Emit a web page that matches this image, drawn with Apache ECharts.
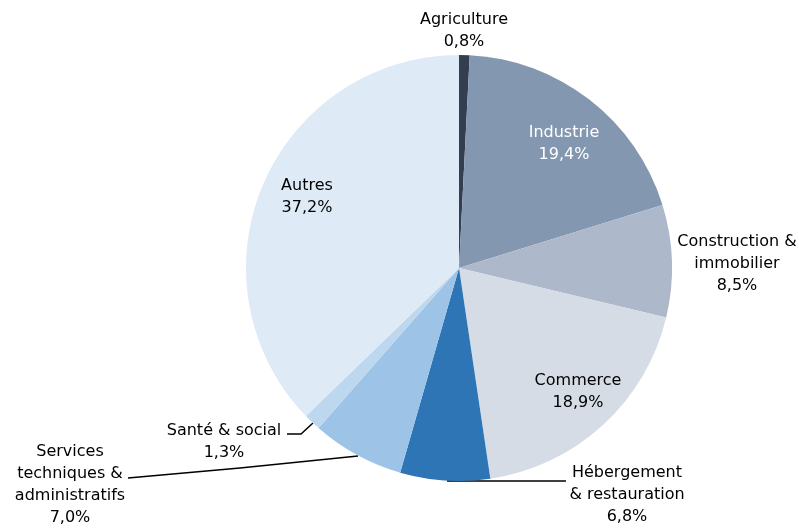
<!DOCTYPE html>
<html><head><meta charset="utf-8">
<script src="https://cdn.jsdelivr.net/npm/echarts@6/dist/echarts.min.js"></script>
<style>html,body{margin:0;padding:0;background:#fff}#c{width:799px;height:529px}</style>
</head><body><div id="c"></div>
<script>
const categories = ['Agriculture','Industrie','Construction &\nimmobilier','Commerce','Hébergement\n& restauration','Services\ntechniques &\nadministratifs','Santé & social','Autres'];
const values = [0.8, 19.4, 8.5, 18.9, 6.8, 7.0, 1.3, 37.2];
const colors = ['#333f50','#8497b0','#adb9ca','#d6dce5','#2e75b6','#9dc3e6','#bdd7ee','#deebf7'];
const labelColors = ['#000000','#ffffff','#000000','#000000','#000000','#000000','#000000','#000000'];
const withLine = [false,false,false,false,true,true,true,false];

// label layout (positions of the text blocks, not of the data marks)
const labelPos = [
  {x:464, y:31},
  {x:564, y:144},
  {x:737, y:264},
  {x:578, y:392},
  {x:627, y:495},
  {x:70, y:485},
  {x:224, y:442},
  {x:307, y:197}
];
const linePts = {
  4: [[447,481],[500,481],[566,481]],
  5: [[358,456],[240,468],[128,478]],
  6: [[313,423],[301,434],[287,434]]
};

const fmtVal = v => v.toFixed(1).replace('.', ',') + '%';

const chart = echarts.init(document.getElementById('c'), null, {renderer:'canvas'});
chart.setOption({
  animation:false,
  series:[{
    type:'pie',
    center:[459,268],
    radius:213,
    startAngle:90,
    clockwise:true,
    avoidLabelOverlap:false,
    itemStyle:{borderWidth:0},
    label:{
      show:true,
      position:'outside',
      fontFamily:'DejaVu Sans',
      fontSize:16,
      lineHeight:22,
      color:'#000',
      formatter: p => p.name + '\n' + fmtVal(p.value)
    },
    labelLine:{show:false, lineStyle:{color:'#000', width:1.5}},
    labelLayout: function(params){
      const i = params.dataIndex;
      const lp = labelPos[i];
      const o = {x:lp.x, y:lp.y, align:'center', verticalAlign:'middle'};
      if (linePts[i]) o.labelLinePoints = linePts[i];
      return o;
    },
    data: categories.map((c,i)=>({
      name:c, value:values[i],
      itemStyle:{color:colors[i]},
      label:{color:labelColors[i]},
      labelLine:{show:withLine[i]}
    }))
  }]
});
</script>
</body></html>
